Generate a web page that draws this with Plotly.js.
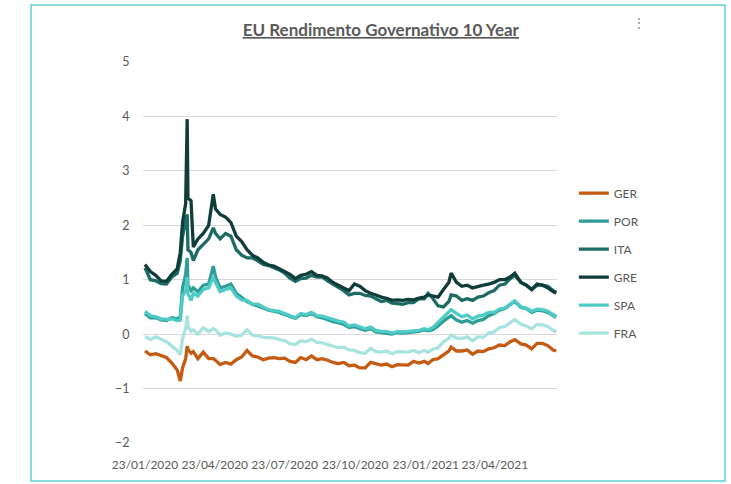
<!DOCTYPE html>
<html>
<head>
<meta charset="utf-8">
<script src="https://cdn.plot.ly/plotly-3.0.1.min.js"></script>
<style>html,body{margin:0;padding:0;background:#fff;}#chart{width:731px;height:484px;}</style>
</head>
<body>
<div id="chart"></div>
<script>
const dates = [
"2020-01-23","2020-01-30","2020-02-06","2020-02-13","2020-02-20","2020-02-27","2020-03-05","2020-03-09","2020-03-12","2020-03-16",
"2020-03-18","2020-03-19","2020-03-23","2020-03-26","2020-04-01","2020-04-08","2020-04-15","2020-04-21","2020-04-24","2020-04-30",
"2020-05-07","2020-05-14","2020-05-21","2020-05-28","2020-06-04","2020-06-11","2020-06-18","2020-06-25","2020-07-02","2020-07-09",
"2020-07-16","2020-07-23","2020-07-30","2020-08-06","2020-08-13","2020-08-20","2020-08-27","2020-09-03","2020-09-10","2020-09-17",
"2020-09-24","2020-10-01","2020-10-08","2020-10-15","2020-10-22","2020-10-29","2020-11-05","2020-11-12","2020-11-19","2020-11-26",
"2020-12-03","2020-12-10","2020-12-17","2020-12-24","2020-12-31","2021-01-07","2021-01-14","2021-01-21","2021-01-26","2021-02-01",
"2021-02-08","2021-02-15","2021-02-22","2021-02-25","2021-03-04","2021-03-11","2021-03-18","2021-03-25","2021-04-01","2021-04-08",
"2021-04-15","2021-04-22","2021-04-29","2021-05-06","2021-05-13","2021-05-19","2021-05-27","2021-06-03","2021-06-10","2021-06-17",
"2021-06-24","2021-07-01","2021-07-08","2021-07-12"
];
const GER = [
-0.31,-0.38,-0.36,-0.40,-0.43,-0.53,-0.66,-0.86,-0.62,-0.45,
-0.22,-0.28,-0.35,-0.32,-0.45,-0.33,-0.45,-0.45,-0.48,-0.56,
-0.52,-0.55,-0.47,-0.42,-0.30,-0.40,-0.42,-0.47,-0.44,-0.43,
-0.45,-0.44,-0.50,-0.52,-0.43,-0.47,-0.40,-0.47,-0.45,-0.48,
-0.52,-0.54,-0.52,-0.58,-0.57,-0.62,-0.62,-0.52,-0.55,-0.57,
-0.55,-0.60,-0.56,-0.56,-0.57,-0.50,-0.53,-0.50,-0.54,-0.47,
-0.45,-0.38,-0.31,-0.24,-0.31,-0.31,-0.29,-0.37,-0.31,-0.32,
-0.27,-0.25,-0.20,-0.21,-0.14,-0.10,-0.18,-0.20,-0.27,-0.17,
-0.17,-0.21,-0.29,-0.31
];
const POR = [
0.38,0.30,0.30,0.26,0.25,0.30,0.28,0.32,0.85,1.10,
1.40,0.90,0.80,0.85,0.78,0.90,0.92,1.25,1.05,0.85,
0.88,0.92,0.75,0.67,0.60,0.55,0.52,0.48,0.44,0.42,
0.40,0.36,0.33,0.29,0.36,0.34,0.38,0.32,0.30,0.26,
0.23,0.21,0.18,0.12,0.14,0.10,0.07,0.10,0.04,0.03,
0.02,0.00,0.03,0.02,0.03,0.04,0.05,0.08,0.06,0.08,
0.15,0.24,0.30,0.34,0.26,0.22,0.25,0.20,0.25,0.27,
0.34,0.38,0.44,0.47,0.54,0.60,0.49,0.47,0.40,0.44,
0.43,0.40,0.34,0.31
];
const ITA = [
1.22,1.00,0.98,0.93,0.92,1.05,1.12,1.35,1.80,2.05,
2.20,1.55,1.50,1.35,1.55,1.65,1.75,1.95,1.85,1.75,
1.85,1.80,1.55,1.45,1.40,1.40,1.35,1.28,1.26,1.22,
1.18,1.12,1.03,0.97,1.02,1.03,1.08,1.05,1.05,0.98,
0.92,0.85,0.80,0.72,0.75,0.75,0.71,0.70,0.65,0.60,
0.62,0.57,0.56,0.55,0.58,0.58,0.65,0.65,0.75,0.66,
0.52,0.50,0.60,0.72,0.70,0.62,0.65,0.62,0.68,0.70,
0.76,0.80,0.90,0.92,1.02,1.08,0.95,0.90,0.82,0.90,
0.90,0.88,0.80,0.77
];
const GRE = [
1.28,1.15,1.08,0.98,0.97,1.10,1.20,1.50,2.05,2.40,
3.95,2.50,2.45,1.60,1.75,1.85,2.00,2.57,2.30,2.20,
2.15,2.05,1.80,1.70,1.55,1.45,1.40,1.32,1.27,1.25,
1.20,1.15,1.10,1.02,1.08,1.10,1.15,1.08,1.07,1.03,
0.95,0.90,0.85,0.80,0.92,0.88,0.80,0.75,0.72,0.68,
0.66,0.62,0.63,0.62,0.64,0.63,0.66,0.68,0.72,0.70,
0.68,0.82,0.95,1.12,0.95,0.88,0.90,0.85,0.88,0.90,
0.92,0.95,1.00,1.00,1.05,1.12,0.95,0.90,0.82,0.92,
0.90,0.85,0.78,0.75
];
const SPA = [
0.42,0.34,0.32,0.28,0.27,0.28,0.25,0.26,0.70,0.80,
1.05,0.75,0.62,0.75,0.70,0.82,0.85,1.05,0.95,0.78,
0.82,0.85,0.70,0.63,0.62,0.55,0.55,0.50,0.45,0.43,
0.42,0.38,0.34,0.30,0.38,0.36,0.40,0.34,0.33,0.30,
0.26,0.24,0.22,0.15,0.17,0.13,0.10,0.13,0.07,0.05,
0.05,0.02,0.05,0.04,0.05,0.07,0.07,0.10,0.08,0.12,
0.22,0.32,0.40,0.45,0.38,0.32,0.35,0.28,0.33,0.35,
0.40,0.40,0.46,0.48,0.55,0.61,0.50,0.48,0.42,0.46,
0.45,0.42,0.36,0.33
];
const FRA = [
-0.04,-0.10,-0.05,-0.10,-0.14,-0.22,-0.30,-0.38,-0.08,0.10,
0.34,0.15,0.05,0.08,0.00,0.12,0.05,0.10,0.08,-0.02,
0.02,0.00,-0.04,-0.02,0.08,-0.02,-0.03,-0.06,-0.06,-0.07,
-0.10,-0.12,-0.18,-0.19,-0.12,-0.14,-0.09,-0.15,-0.16,-0.19,
-0.22,-0.25,-0.24,-0.29,-0.30,-0.34,-0.35,-0.26,-0.32,-0.33,
-0.31,-0.36,-0.32,-0.32,-0.33,-0.30,-0.34,-0.30,-0.33,-0.28,
-0.25,-0.14,-0.08,-0.02,-0.07,-0.08,-0.05,-0.12,-0.05,-0.06,
0.02,0.04,0.12,0.14,0.22,0.27,0.18,0.15,0.10,0.18,
0.17,0.14,0.07,0.04
];
const seriesNames = ["GER","POR","ITA","GRE","SPA","FRA"];
const seriesData = [GER, POR, ITA, GRE, SPA, FRA];
const seriesColors = ["#C55A11","#2E9E98","#1D6B65","#0E3D3A","#4FCBC6","#A9E3DF"];
const xTickVals = ["2020-01-23","2020-04-23","2020-07-23","2020-10-23","2021-01-23","2021-04-23"];
const xTickText = ["23/01/2020","23/04/2020","23/07/2020","23/10/2020","23/01/2021","23/04/2021"];
const yTickVals = [-2,-1,0,1,2,3,4,5];

const traces = seriesNames.map((n, i) => ({
  type: "scatter", mode: "lines", name: n, x: dates, y: seriesData[i],
  legendgroup: n,
  line: {color: seriesColors[i], width: 3.3},
  hoverinfo: "x+y+name"
}));

const layout = {
  width: 731, height: 484,
  margin: {l: 143, r: 174, t: 62, b: 41},
  paper_bgcolor: "#ffffff", plot_bgcolor: "#ffffff",
  font: {family: "Lato, 'Open Sans', sans-serif", color: "#595959", size: 12},
  title: {
    text: "<b><u>EU Rendimento Governativo 10 Year</u></b>",
    font: {size: 17, color: "#595959", family: "Lato, sans-serif"},
    xref: "container", yref: "container", x: 0.521, y: 0.938, xanchor: "center", yanchor: "middle"
  },
  xaxis: {
    type: "date",
    range: ["2020-01-20 10:00", "2021-07-13"],
    tickvals: xTickVals, ticktext: xTickText,
    tickangle: 0,
    showgrid: false, zeroline: false, showline: false,
    ticks: "outside", ticklen: 11, tickcolor: "rgba(0,0,0,0)",
    tickfont: {size: 12, color: "#595959"}
  },
  yaxis: {
    range: [-2, 5], tickvals: yTickVals,
    showgrid: true, gridcolor: "#D9D9D9", gridwidth: 1,
    zeroline: false, showline: false,
    ticks: "outside", ticklen: 10, tickcolor: "rgba(0,0,0,0)",
    tickfont: {size: 12.5, color: "#595959"}
  },
  legend: {
    xref: "container", yref: "container", x: 0.785, y: 0.631, xanchor: "left", yanchor: "top",
    traceorder: "grouped", tracegroupgap: 9,
    font: {size: 12, color: "#595959"}, bgcolor: "rgba(0,0,0,0)", itemwidth: 30
  },
  shapes: [{
    type: "rect", xref: "paper", yref: "paper",
    x0: (31 - 143) / 414, x1: (725 - 143) / 414,
    y0: (443 - 481) / 381, y1: (443 - 5) / 381,
    line: {color: "#5FD0D6", width: 1.5}, fillcolor: "rgba(0,0,0,0)", layer: "below"
  }],
  annotations: [{
    xref: "paper", yref: "paper", x: (647 - 143) / 414, y: (443 - 13) / 381,
    text: "⋮", showarrow: false, font: {size: 12, color: "#7F7F7F"}
  }],
  showlegend: true
};
Plotly.newPlot("chart", traces, layout, {displayModeBar: false, staticPlot: true});
</script>
</body>
</html>
